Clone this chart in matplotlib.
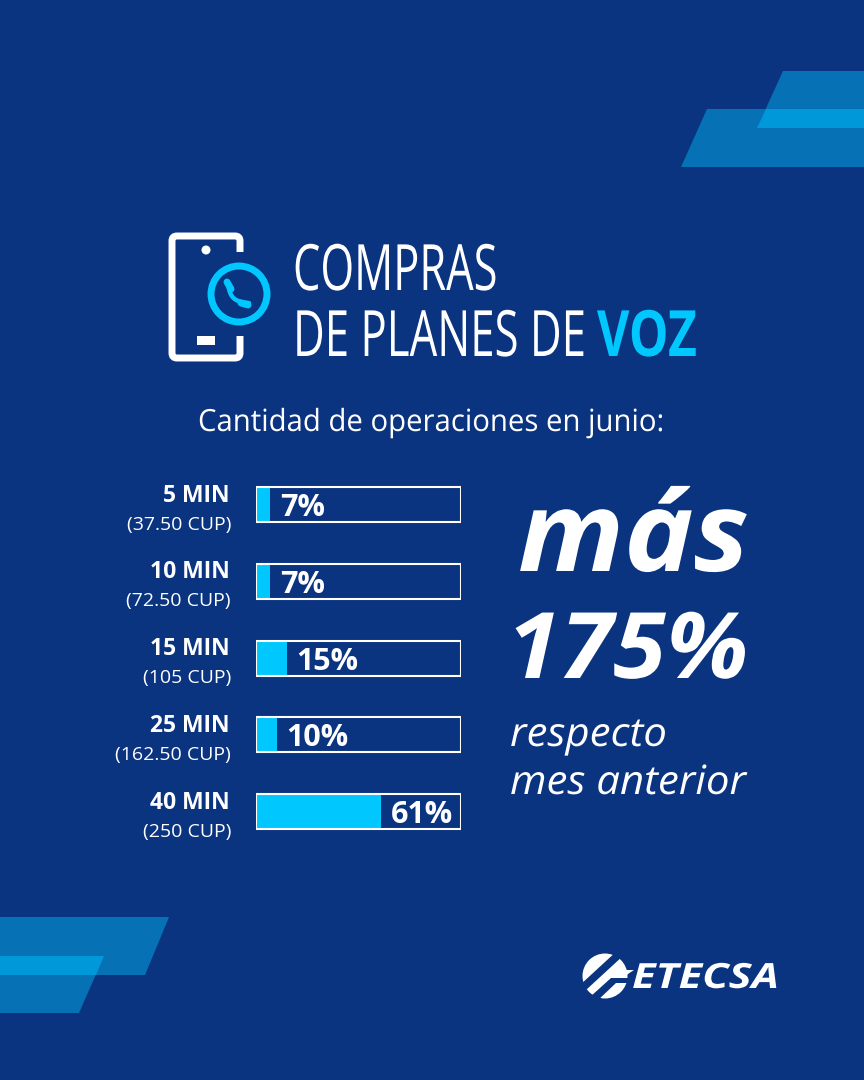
import numpy as np
import matplotlib
matplotlib.use("Agg")
import matplotlib.pyplot as plt
from matplotlib.patches import Polygon, Circle, FancyBboxPatch, Rectangle
from matplotlib.patheffects import AbstractPathEffect
from matplotlib.transforms import Affine2D, Bbox

minutes = ["5 MIN", "10 MIN", "15 MIN", "25 MIN", "40 MIN"]
prices = ["(37.50 CUP)", "(72.50 CUP)", "(105 CUP)", "(162.50 CUP)", "(250 CUP)"]
shares = [7, 7, 15, 10, 61]
share_labels = ["7%", "7%", "15%", "10%", "61%"]

BG = "#0A3380"
CYAN = "#00C8FF"
MID = "#0672B5"
BRIGHT = "#0098D8"
WHITE = "#FFFFFF"
SANS = "Open Sans"


class Stretch(AbstractPathEffect):
    """Scale a text's glyphs horizontally about its origin (left-anchored text)."""
    def __init__(self, sx):
        super().__init__()
        self.sx = sx

    def draw_path(self, renderer, gc, tpath, affine, rgbFace=None):
        renderer.draw_path(gc, tpath, Affine2D().scale(self.sx, 1) + affine, rgbFace)


fig = plt.figure(figsize=(8.64, 10.8), dpi=100, facecolor=BG)
W, H = 864, 1080
bg = fig.add_axes([0, 0, 1, 1])
bg.set_xlim(0, W); bg.set_ylim(H, 0); bg.axis("off")


def stext(x, y, s, sx, **kw):
    txt = bg.text(x, y, s, color=kw.pop("color", WHITE), family=SANS, va="baseline", ha="left",
                  path_effects=[Stretch(sx)], **kw)
    raw_extent = txt.get_window_extent

    def extent(renderer=None, dpi=None):
        b = raw_extent(renderer, dpi)
        return Bbox.from_extents(b.x0, b.y0, b.x0 + b.width * sx, b.y1)

    txt.get_window_extent = extent
    return txt


# corner decorations
for pts, c in [
    ([(783, 71), (864, 71), (864, 128), (757, 128)], MID),
    ([(707, 109), (864, 109), (864, 167), (681, 167)], MID),
    ([(766, 109), (864, 109), (864, 128), (757, 128)], BRIGHT),
    ([(0, 917), (169, 917), (145, 975), (0, 975)], MID),
    ([(0, 956), (104, 956), (79, 1013), (0, 1013)], MID),
    ([(0, 956), (104, 956), (96, 975), (0, 975)], BRIGHT),
]:
    bg.add_patch(Polygon(pts, closed=True, fc=c, ec="none"))

# phone icon
bg.add_patch(FancyBboxPatch((172, 236), 68, 122, boxstyle="round,pad=0,rounding_size=5",
                            fc="none", ec=WHITE, lw=5))
bg.add_patch(Rectangle((232, 252), 14, 84, fc=BG, ec="none"))
bg.add_patch(Circle((206, 250), 4.5, fc=WHITE, ec="none"))
bg.add_patch(Rectangle((197, 336), 18, 9, fc=WHITE, ec="none"))
bg.add_patch(Circle((239, 294), 28, fc=BG, ec=CYAN, lw=5))
t = np.linspace(0, 1, 30)
hx = 228 + 21 * t - 5 * np.sin(np.pi * t)
hy = 283 + 20 * t + 5 * np.sin(np.pi * t)
bg.plot(hx, hy, color=CYAN, lw=3.2, solid_capstyle="round")
bg.plot([227, 231], [282, 289], color=CYAN, lw=5, solid_capstyle="round")
bg.plot([241, 248], [303, 305], color=CYAN, lw=5, solid_capstyle="round")

# title
stext(293, 290, "COMPRAS", 0.68, fontsize=46)
stext(293, 356, "DE PLANES DE", 0.685, fontsize=46)
stext(597, 356, "VOZ", 0.78, fontsize=46, color=CYAN, weight="bold")
stext(198, 431, "Cantidad de operaciones en junio:", 0.96, fontsize=22)

# right-hand callout
stext(518, 571, "más", 1.055, fontsize=80, weight="bold", style="italic")
stext(507, 678, "175%", 1.05, fontsize=66, weight="bold", style="italic")
stext(510, 746, "respecto", 1.04, fontsize=29, style="italic")
stext(510, 794, "mes anterior", 1.04, fontsize=29, style="italic")

# bar chart: bars are drawn from the data in their own axes
spacing = 76.75
top = 504.5 - spacing / 2
bottom = 811.5 + spacing / 2
ax = fig.add_axes([256 / W, 1 - bottom / H, 205 / W, (bottom - top) / H])
ax.patch.set_alpha(0)
ax.set_xlim(0, 100)
ax.set_ylim(4.5, -0.5)
ax.axis("off")
y = np.arange(len(shares))
bar_h = 35 / spacing
ax.barh(y, shares, height=bar_h, color=CYAN, edgecolor="none", zorder=2)
ax.barh(y, [100] * len(shares), height=bar_h, color="none", edgecolor=WHITE, lw=1.5, zorder=3)

for i, (m, p, s, lab) in enumerate(zip(minutes, prices, shares, share_labels)):
    ax.annotate(lab, (s, i), xytext=(7, 0), textcoords="offset points", color=WHITE, fontsize=22,
                family=SANS, weight="bold", ha="left", va="center_baseline", zorder=4)
    ax.annotate(m, (0, i), xytext=(-19, 8.5), textcoords="offset points", color=WHITE, fontsize=16.5,
                family=SANS, weight="bold", ha="right", va="center_baseline")
    ax.annotate(p, (0, i), xytext=(-18, -13), textcoords="offset points", color=WHITE, fontsize=14,
                family=SANS, ha="right", va="center_baseline")

# ETECSA logo
bg.add_patch(Circle((605, 976), 22.5, fc=WHITE, ec="none"))
for pts in [
    [(580, 985), (618, 950), (624, 955), (586, 990)],
    [(590, 997), (611, 978), (632, 978), (632, 983), (616, 983), (596, 1002)],
]:
    bg.add_patch(Polygon(pts, closed=True, fc=BG, ec="none"))
bg.add_patch(Polygon([(608, 970), (634, 970), (622, 978), (604, 978)], closed=True, fc=WHITE, ec="none"))
stext(632, 988, "ETECSA", 1.25, fontsize=25, weight="bold", style="italic")

fig.savefig("out.png", dpi=100, facecolor=BG)
